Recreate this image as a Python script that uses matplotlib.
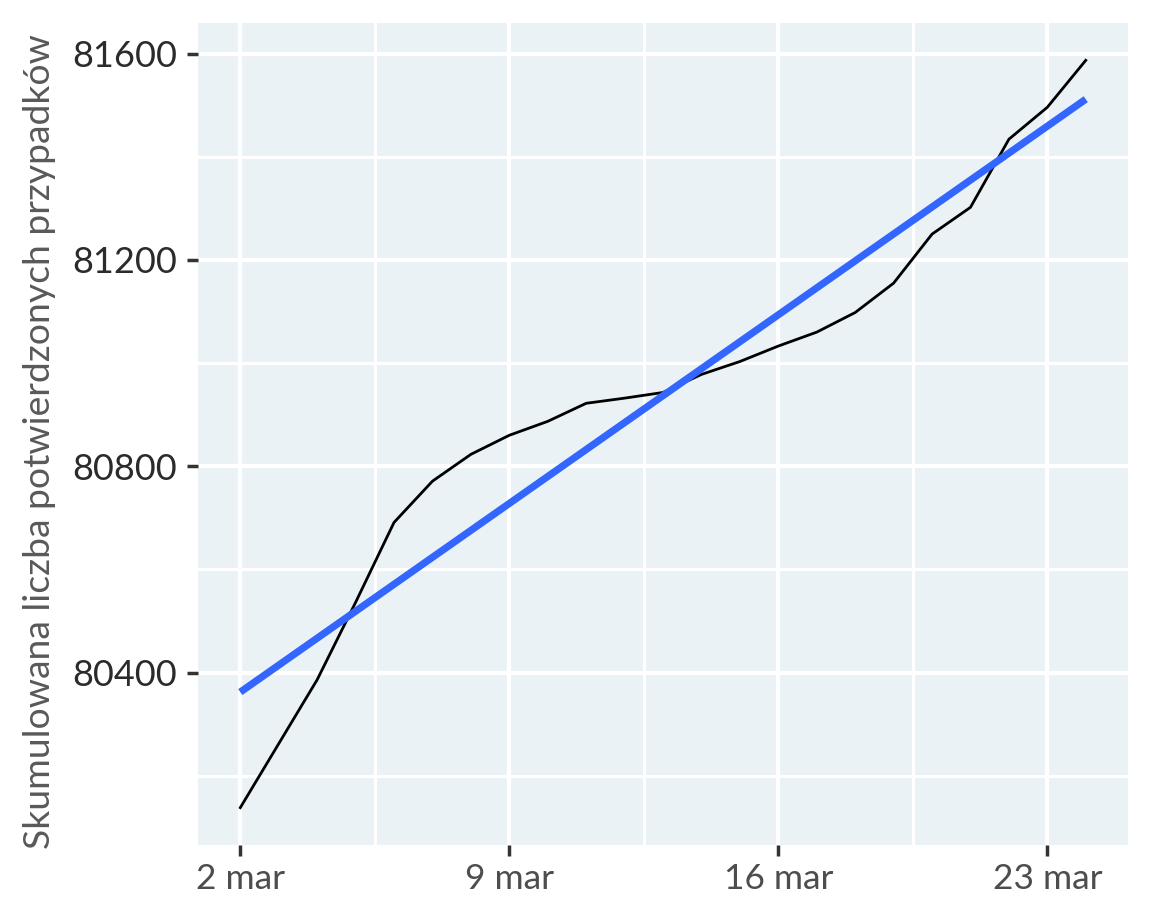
import numpy as np
import matplotlib
matplotlib.use("Agg")
import matplotlib.pyplot as plt
from matplotlib.ticker import FixedLocator

# Data
days = list(range(2, 25))  # 2 mar .. 24 mar
cases = [80138, 80262, 80386, 80536, 80691, 80771, 80823, 80860, 80887,
         80922, 80932, 80943, 80978, 81003, 81033, 81060, 81098, 81155,
         81250, 81302, 81434, 81496, 81587]
xtick_days = [2, 9, 16, 23]
xtick_labels = ["2 mar", "9 mar", "16 mar", "23 mar"]
ytick_vals = [80400, 80800, 81200, 81600]
y_title = "Skumulowana liczba potwierdzonych przypadków"

plt.rcParams['font.family'] = ['Lato', 'DejaVu Sans']

fig = plt.figure(figsize=(11.52, 9.22), dpi=100)
ax = fig.add_axes([0.1719, 0.0835, 0.8073, 0.8916])
ax.set_facecolor('#EAF2F6')

x = np.array(days, dtype=float)
y = np.array(cases, dtype=float)

# linear fit (geom_smooth method = lm)
coef = np.polyfit(x, y, 1)
yfit = np.polyval(coef, x)

ax.plot(x, y, color='black', lw=2.0, zorder=3)
ax.plot(x, yfit, color='#3366FF', lw=5.2, zorder=4, solid_capstyle='butt')

# limits with 5% expansion
xr = x.max() - x.min()
ax.set_xlim(x.min() - 0.05 * xr, x.max() + 0.05 * xr)
yr = y.max() - y.min()
ax.set_ylim(y.min() - 0.05 * yr, y.max() + 0.05 * yr)

ax.xaxis.set_major_locator(FixedLocator(xtick_days))
ax.set_xticklabels(xtick_labels)
ax.xaxis.set_minor_locator(FixedLocator([d + 3.5 for d in xtick_days]))
ax.yaxis.set_major_locator(FixedLocator(ytick_vals))
ax.set_yticklabels([str(v) for v in ytick_vals])
ax.yaxis.set_minor_locator(FixedLocator([v - 200 for v in ytick_vals] + [ytick_vals[-1] + 200]))

ax.grid(which='major', color='white', lw=3.0, zorder=0)
ax.grid(which='minor', color='white', lw=2.2, zorder=0)
ax.set_axisbelow(True)

for s in ax.spines.values():
    s.set_visible(False)

ax.tick_params(axis='y', which='major', length=8, width=2.5, color='#333333',
               labelsize=26, labelcolor='#2b2b2b', pad=7)
ax.tick_params(axis='x', which='major', length=8, width=2.5, color='#333333',
               labelsize=25.5, labelcolor='#4d4d4d', pad=5)
ax.tick_params(which='minor', length=0)

fig.text(40 / 1152, 1 - 441.5 / 922, y_title, rotation=90, ha='center', va='center',
         fontsize=26.8, color='#595959')

fig.savefig('out.png', dpi=100, facecolor='white')
